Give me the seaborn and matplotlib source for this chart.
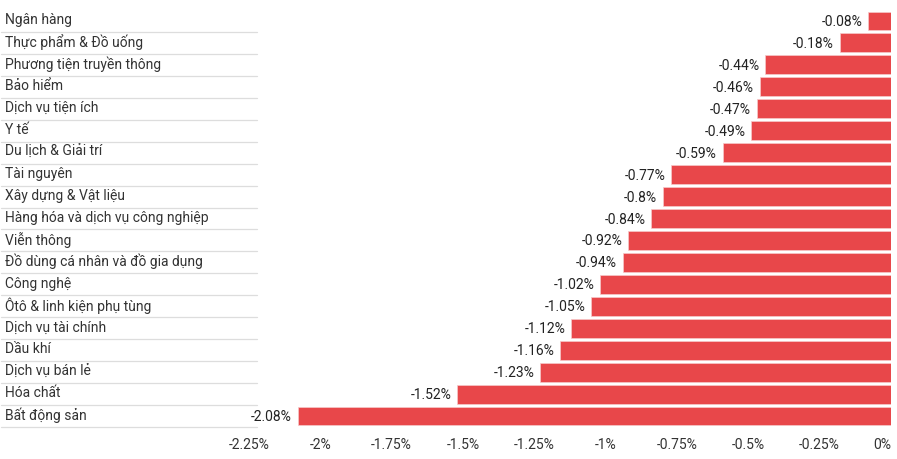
import matplotlib
matplotlib.use('Agg')
import matplotlib.pyplot as plt
import matplotlib.transforms as mtransforms
import seaborn as sns
import pandas as pd

# Data
sectors = ['Ngân hàng', 'Thực phẩm & Đồ uống', 'Phương tiện truyền thông', 'Bảo hiểm',
           'Dịch vụ tiện ích', 'Y tế', 'Du lịch & Giải trí', 'Tài nguyên',
           'Xây dựng & Vật liệu', 'Hàng hóa và dịch vụ công nghiệp', 'Viễn thông',
           'Đồ dùng cá nhân và đồ gia dụng', 'Công nghệ', 'Ôtô & linh kiện phụ tùng',
           'Dịch vụ tài chính', 'Dầu khí', 'Dịch vụ bán lẻ', 'Hóa chất', 'Bất động sản']
changes = [-0.08, -0.18, -0.44, -0.46, -0.47, -0.49, -0.59, -0.77, -0.8, -0.84,
           -0.92, -0.94, -1.02, -1.05, -1.12, -1.16, -1.23, -1.52, -2.08]
ticks = [-2.25, -2, -1.75, -1.5, -1.25, -1, -0.75, -0.5, -0.25, 0]

df = pd.DataFrame({'sector': sectors, 'change': changes})

sns.set_style('white')
plt.rcParams['font.family'] = ['Roboto', 'DejaVu Sans']

W, H = 897, 460
fig = plt.figure(figsize=(W / 100, H / 100), dpi=100)
ax = fig.add_axes([249 / W, (H - 428) / H, (891 - 249) / W, (428 - 11) / H])

sns.barplot(data=df, x='change', y='sector', orient='h', color='#e8474a',
            saturation=1, width=0.86, edgecolor='#f7c9ca', linewidth=0.5, ax=ax)

ax.set_xlim(-2.25, 0)
ax.set_ylim(len(sectors) - 0.5, -0.5)
ax.set_xticks(ticks)
ax.set_xticklabels([('%g' % t) + '%' for t in ticks], fontsize=10, color='#333333')
ax.get_xticklabels()[-1].set_horizontalalignment('right')
ax.tick_params(axis='x', length=0, pad=7)
ax.set_yticks([])
ax.set_xlabel('')
ax.set_ylabel('')
sns.despine(ax=ax, left=True, bottom=True)

# value labels
for i, v in enumerate(changes):
    ax.text(v - 0.02, i, ('%g' % v) + '%', ha='right', va='center', fontsize=10, color='#222222')

# category labels and separators on the left
trans = mtransforms.blended_transform_factory(fig.transFigure, ax.transData)
for i, name in enumerate(sectors):
    fig.text(5 / W, i - 0.08, name, transform=trans, ha='left', va='center',
             fontsize=10, color='#333333')
    ax.plot([1 / W, 257 / W], [i + 0.5, i + 0.5], transform=trans,
            color='#dddddd', linewidth=0.9, clip_on=False)

fig.savefig('out.png', dpi=100)
